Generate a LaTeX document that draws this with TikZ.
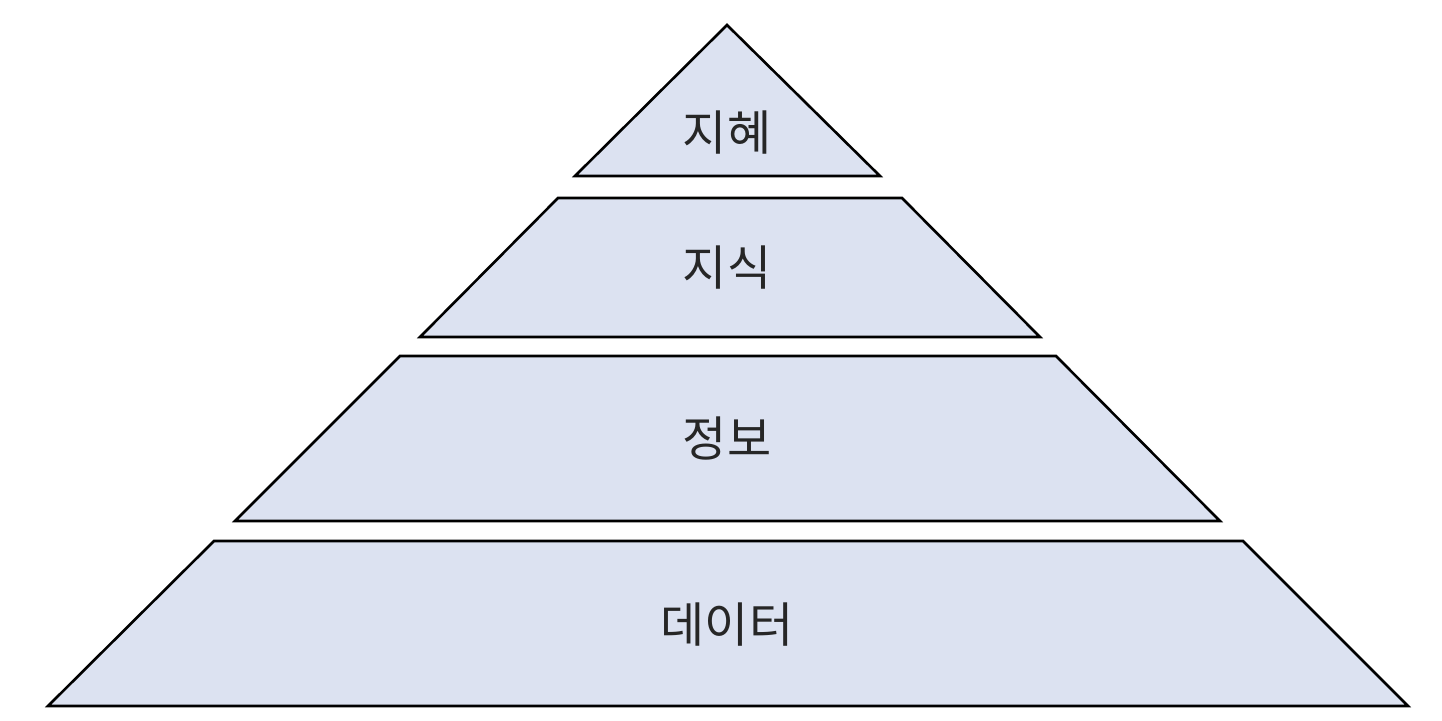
\documentclass[tikz,border=0pt]{standalone}
\usepackage{fontspec}
\newfontfamily\kr{Noto Sans CJK KR}
\definecolor{layer}{HTML}{DCE2F1}
\begin{document}
\begin{tikzpicture}[x=0.5pt,y=-0.5pt,
  lay/.style={fill=layer,draw=black,line width=1.3pt,line join=miter},
  lbl/.style={font=\kr\fontsize{24}{28}\selectfont,text=black!85}]
\useasboundingbox (0,0) rectangle (1442,720);
\draw[lay] (727,25) -- (880,176) -- (575,176) -- cycle;
\draw[lay] (558,198) -- (902,198) -- (1040,337) -- (420,337) -- cycle;
\draw[lay] (400,356) -- (1056,356) -- (1220,521) -- (235,521) -- cycle;
\draw[lay] (214,541) -- (1243,541) -- (1408,706) -- (48,706) -- cycle;
\node[lbl] (wisdom) at (727,133) {지혜};
\node[lbl] (knowledge) at (727,268) {지식};
\node[lbl] (information) at (727,438) {정보};
\node[lbl] (data) at (727,625) {데이터};
\end{tikzpicture}
\end{document}
